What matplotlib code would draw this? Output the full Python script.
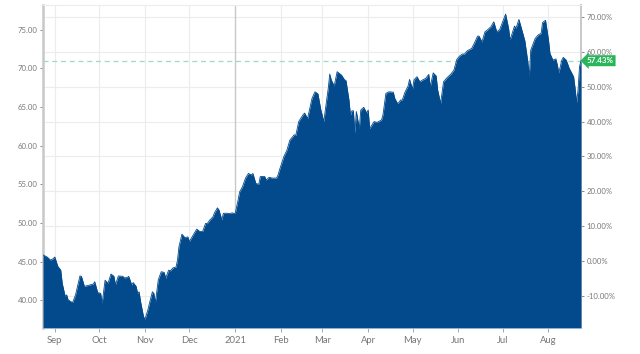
import matplotlib
matplotlib.use("Agg")
import matplotlib.pyplot as plt
import matplotlib.dates as mdates
import numpy as np
import pandas as pd

dates = [
    "2020-08-24", "2020-08-27", "2020-08-29", "2020-08-31", "2020-09-01", "2020-09-03", "2020-09-05", "2020-09-06",
    "2020-09-08", "2020-09-09", "2020-09-10", "2020-09-13", "2020-09-15", "2020-09-18", "2020-09-19", "2020-09-21",
    "2020-09-23", "2020-09-25", "2020-09-27", "2020-09-28", "2020-09-30", "2020-10-02", "2020-10-03", "2020-10-05",
    "2020-10-07", "2020-10-09", "2020-10-11", "2020-10-12", "2020-10-14", "2020-10-17", "2020-10-18", "2020-10-20",
    "2020-10-21", "2020-10-23", "2020-10-24", "2020-10-26", "2020-10-27", "2020-10-28", "2020-10-29", "2020-10-31",
    "2020-11-01", "2020-11-03", "2020-11-04", "2020-11-06", "2020-11-07", "2020-11-08", "2020-11-10", "2020-11-12",
    "2020-11-14", "2020-11-15", "2020-11-17", "2020-11-18", "2020-11-20", "2020-11-22", "2020-11-23", "2020-11-24",
    "2020-11-26", "2020-11-28", "2020-11-30", "2020-12-01", "2020-12-03", "2020-12-05", "2020-12-06", "2020-12-08",
    "2020-12-10", "2020-12-12", "2020-12-13", "2020-12-15", "2020-12-17", "2020-12-18", "2020-12-20", "2020-12-21",
    "2020-12-23", "2020-12-24", "2020-12-27", "2020-12-28", "2020-12-30", "2021-01-01", "2021-01-03", "2021-01-04",
    "2021-01-06", "2021-01-08", "2021-01-10", "2021-01-12", "2021-01-13", "2021-01-15", "2021-01-17", "2021-01-18",
    "2021-01-21", "2021-01-22", "2021-01-24", "2021-01-26", "2021-01-29", "2021-01-30", "2021-01-31", "2021-02-03",
    "2021-02-05", "2021-02-07", "2021-02-10", "2021-02-11", "2021-02-13", "2021-02-16", "2021-02-17", "2021-02-19",
    "2021-02-21", "2021-02-22", "2021-02-24", "2021-02-26", "2021-02-28", "2021-03-02", "2021-03-03", "2021-03-05",
    "2021-03-06", "2021-03-07", "2021-03-09", "2021-03-11", "2021-03-14", "2021-03-16", "2021-03-17", "2021-03-19",
    "2021-03-20", "2021-03-21", "2021-03-22", "2021-03-23", "2021-03-24", "2021-03-26", "2021-03-27", "2021-03-29",
    "2021-03-31", "2021-04-01", "2021-04-02", "2021-04-04", "2021-04-05", "2021-04-07", "2021-04-10", "2021-04-11",
    "2021-04-13", "2021-04-15", "2021-04-18", "2021-04-19", "2021-04-21", "2021-04-23", "2021-04-24", "2021-04-26",
    "2021-04-28", "2021-04-29", "2021-05-01", "2021-05-02", "2021-05-04", "2021-05-06", "2021-05-08", "2021-05-10",
    "2021-05-12", "2021-05-13", "2021-05-15", "2021-05-17", "2021-05-18", "2021-05-20", "2021-05-22", "2021-05-24",
    "2021-05-27", "2021-05-29", "2021-05-31", "2021-06-02", "2021-06-04", "2021-06-05", "2021-06-07", "2021-06-10",
    "2021-06-12", "2021-06-14", "2021-06-15", "2021-06-17", "2021-06-19", "2021-06-21", "2021-06-23", "2021-06-25",
    "2021-06-27", "2021-06-29", "2021-07-01", "2021-07-03", "2021-07-05", "2021-07-06", "2021-07-09", "2021-07-10",
    "2021-07-12", "2021-07-14", "2021-07-16", "2021-07-18", "2021-07-19", "2021-07-20", "2021-07-23", "2021-07-25",
    "2021-07-27", "2021-07-28", "2021-07-30", "2021-08-01", "2021-08-02", "2021-08-04", "2021-08-06", "2021-08-07",
    "2021-08-08", "2021-08-10", "2021-08-11", "2021-08-13", "2021-08-15", "2021-08-18", "2021-08-19", "2021-08-20",
    "2021-08-21", "2021-08-22", "2021-08-23",
]
prices = [
    45.87, 45.57, 45.20, 45.40, 45.60, 44.40, 43.90, 42.20,
    40.50, 40.70, 40.05, 39.70, 40.70, 43.15, 43.10, 41.80,
    41.90, 42.00, 42.10, 42.40, 41.00, 40.90, 39.60, 42.60,
    42.20, 43.40, 43.10, 42.00, 43.15, 43.10, 42.90, 42.95,
    43.10, 42.00, 42.30, 41.80, 40.90, 41.10, 39.85, 37.90,
    37.55, 38.80, 39.60, 41.10, 40.90, 39.70, 42.65, 43.70,
    43.60, 42.85, 43.90, 43.80, 44.20, 44.30, 45.20, 46.95,
    48.55, 48.10, 48.20, 47.60, 48.25, 48.90, 49.20, 48.90,
    48.90, 49.95, 49.90, 50.40, 50.80, 51.30, 51.95, 51.70,
    50.40, 51.25, 51.25, 51.20, 51.30, 51.20, 52.97, 54.00,
    54.70, 55.80, 56.40, 56.20, 56.40, 55.10, 55.00, 56.00,
    56.00, 55.55, 55.90, 55.80, 55.80, 56.20, 56.85, 58.60,
    59.40, 60.70, 61.40, 61.30, 63.10, 64.00, 64.20, 63.50,
    65.25, 66.10, 66.95, 66.70, 64.60, 63.10, 64.60, 67.40,
    69.25, 68.50, 67.70, 69.55, 69.10, 68.50, 68.40, 65.90,
    63.95, 64.50, 64.50, 61.60, 64.40, 62.20, 64.60, 64.95,
    64.20, 64.60, 62.20, 62.80, 63.10, 63.00, 63.30, 63.95,
    66.75, 66.95, 66.90, 66.10, 65.40, 65.90, 65.85, 66.95,
    67.70, 68.55, 67.30, 68.50, 68.90, 68.25, 68.50, 68.70,
    69.20, 67.60, 69.40, 69.00, 67.20, 65.45, 68.25, 68.70,
    69.25, 69.75, 71.15, 71.60, 71.85, 71.80, 72.25, 72.55,
    73.30, 74.15, 74.15, 73.40, 74.70, 75.00, 75.35, 76.00,
    74.70, 75.00, 76.00, 77.00, 75.15, 73.65, 75.45, 75.15,
    76.30, 74.95, 73.55, 70.85, 68.90, 72.35, 73.85, 74.30,
    74.50, 75.90, 76.20, 73.65, 71.90, 71.05, 71.20, 70.40,
    69.40, 71.05, 71.40, 71.05, 70.00, 68.90, 67.40, 65.55,
    67.20, 70.20, 70.97,
]
left_ticks = [40, 45, 50, 55, 60, 65, 70, 75]
right_ticks = [-10, 0, 10, 20, 30, 40, 50, 60, 70]
base_price = 45.08
change_label = "57.43%"
month_ticks = ["2020-09-01", "2020-10-01", "2020-11-01", "2020-12-01", "2021-01-01", "2021-02-01",
               "2021-03-01", "2021-04-01", "2021-05-01", "2021-06-01", "2021-07-01", "2021-08-01"]
month_labels = ["Sep", "Oct", "Nov", "Dec", "2021", "Feb", "Mar", "Apr", "May", "Jun", "Jul", "Aug"]

plt.rcParams['font.family'] = ['Lato', 'DejaVu Sans']

x = pd.to_datetime(dates)
y = np.array(prices)

fig = plt.figure(figsize=(6.4, 3.54), dpi=100)
L, R = 43 / 640, 581 / 640
B, T = 1 - 327.7 / 354, 1 - 5 / 354
ax = fig.add_axes([L, B, R - L, T - B])

ymin, ymax = 36.46, 78.17
ax.set_ylim(ymin, ymax)
ax.set_xlim(x[0], x[-1])

fill_color = "#024a8c"
ax.fill_between(x, y, ymin, color=fill_color, linewidth=0, zorder=3)
ax.plot(x, y, color=fill_color, linewidth=0.6, zorder=3)

# right axis in percent change
ax2 = ax.twinx()
ax2.set_ylim((ymin / base_price - 1) * 100, (ymax / base_price - 1) * 100)
ax2.set_yticks(right_ticks)
ax2.set_yticklabels([f"{v:.2f}%" for v in right_ticks])
for v in right_ticks:
    ax2.axhline(v, color="#ececec", linewidth=0.8, zorder=0)
ax2.set_zorder(0)
ax.set_zorder(1)
ax.patch.set_visible(False)

# month grid / ticks
tick_pos = pd.to_datetime(month_ticks)
ax.set_xticks(tick_pos)
ax.set_xticklabels(month_labels)
for d, lab in zip(tick_pos, month_labels):
    ax.axvline(d, color="#c8c8c8" if lab == "2021" else "#ececec",
               linewidth=1.0 if lab == "2021" else 0.8, zorder=0.5)

ax.set_yticks(left_ticks)
ax.set_yticklabels([f"{v:.2f}" for v in left_ticks])

for a in (ax, ax2):
    for s in a.spines.values():
        s.set_visible(False)
ax.spines['left'].set_visible(True)
ax.spines['left'].set_color("#c8c8c8")
ax.spines['left'].set_linewidth(1.8)
ax2.spines['right'].set_visible(True)
ax2.spines['right'].set_color("#c8c8c8")
ax2.spines['right'].set_linewidth(1.4)
ax.spines['top'].set_visible(True)
ax.spines['top'].set_color("#ececec")
ax.spines['top'].set_linewidth(0.8)
ax.spines['bottom'].set_visible(True)
ax.spines['bottom'].set_color("#b9cbe0")
ax.spines['bottom'].set_linewidth(0.8)

ax.tick_params(axis='y', labelsize=5.6, colors="#777777", length=2, width=0.6, pad=2, labelcolor="#777777")
ax.tick_params(axis='x', labelsize=6.8, colors="#999999", length=3, width=0.6, pad=3, labelcolor="#777777")
ax2.tick_params(axis='y', labelsize=5.6, colors="#777777", length=2, width=0.6, pad=2, labelcolor="#777777")

# last price dashed line and label
last = y[-1]
ax.axhline(last, color="#9fd9c8", linewidth=0.9, linestyle=(0, (4, 3)), zorder=2)
last_pct = (last / base_price - 1) * 100
ax2.annotate(change_label, xy=(1.0, last_pct), xycoords=('axes fraction', 'data'),
             xytext=(4, 0), textcoords='offset points', ha='left', va='center',
             fontsize=5.8, color="white", fontweight='bold', zorder=10, annotation_clip=False,
             bbox=dict(boxstyle="larrow,pad=0.25", fc="#2bb55a", ec="none"))

fig.savefig("out.png", dpi=100, facecolor="white")
